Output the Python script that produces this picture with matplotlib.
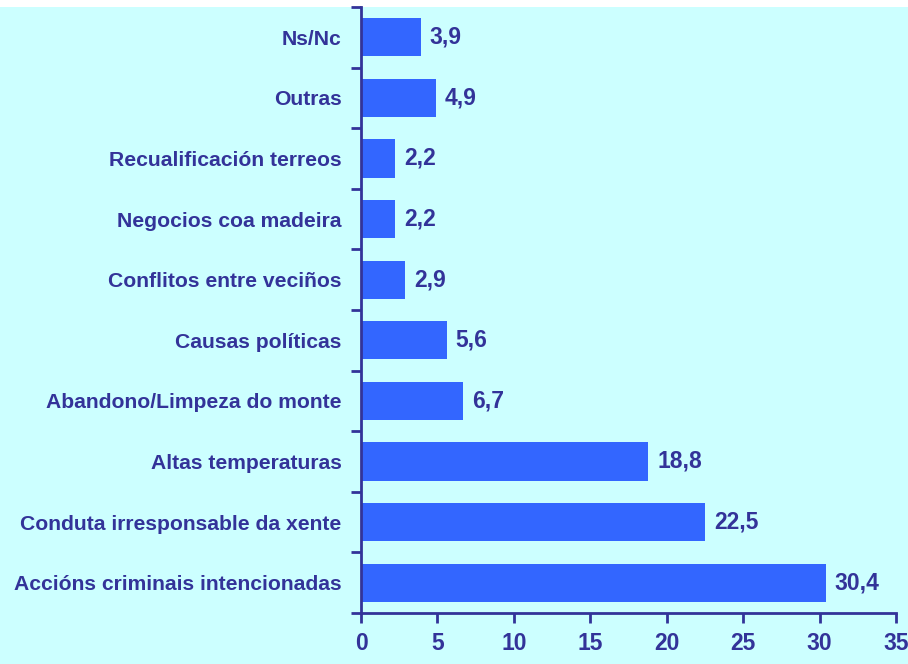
import matplotlib.pyplot as plt
from matplotlib.patches import Rectangle

categories = ["Accións criminais intencionadas", "Conduta irresponsable da xente",
              "Altas temperaturas", "Abandono/Limpeza do monte", "Causas políticas",
              "Conflitos entre veciños", "Negocios coa madeira", "Recualificación terreos",
              "Outras", "Ns/Nc"]
values = [30.4, 22.5, 18.8, 6.7, 5.6, 2.9, 2.2, 2.2, 4.9, 3.9]
xticks = [0, 5, 10, 15, 20, 25, 30, 35]

bg = "#ccffff"
navy = "#333399"
barcol = "#3366ff"

plt.rcParams['font.family'] = ['Liberation Sans', 'DejaVu Sans']
plt.rcParams['font.weight'] = 'bold'

fig = plt.figure(figsize=(9.08, 6.64), dpi=100, facecolor=bg)
fig.patches.append(Rectangle((0, 0.9895), 1, 0.02, transform=fig.transFigure,
                             facecolor="white", edgecolor="none", zorder=-1))
ax = fig.add_axes([0.3976, 0.0768, 0.5892, 0.9127])
ax.set_facecolor(bg)

pos = range(len(categories))
ax.barh(pos, values, height=0.63, color=barcol, zorder=2)
for p, v in zip(pos, values):
    ax.text(v + 0.6, p, f"{v:.1f}".replace(".", ","), va="center", ha="left",
            fontsize=16.5, fontweight="bold", color=navy)

ax.set_xlim(0, 35)
ax.set_ylim(-0.5, len(categories) - 0.5)
ax.set_xticks(xticks)
ax.set_xticklabels([str(t) for t in xticks], fontsize=16.5, fontweight="bold", color=navy)

# category boundary ticks, labels in between
ax.set_yticks([i - 0.5 for i in range(len(categories) + 1)])
ax.set_yticklabels([])
ax.set_yticks(list(pos), minor=True)
ax.set_yticklabels(categories, minor=True, fontsize=15.2, fontweight="bold", color=navy)
ax.tick_params(axis="y", which="minor", length=0, pad=14)
ax.tick_params(axis="y", which="major", length=7, width=2, color=navy, direction="out")
ax.tick_params(axis="x", length=7, width=2, color=navy, direction="out", pad=7)

for s in ["top", "right"]:
    ax.spines[s].set_visible(False)
for s in ["left", "bottom"]:
    ax.spines[s].set_color(navy)
    ax.spines[s].set_linewidth(2)

fig.savefig("out.png", dpi=100, facecolor=bg)
